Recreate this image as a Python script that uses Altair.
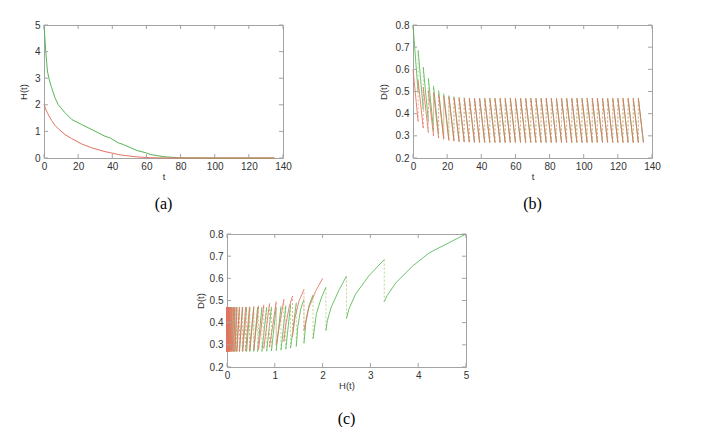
import altair as alt
import pandas as pd

# ---------------- data ----------------
# panel (a): H(t)
ta_green = [0, 1, 2, 3, 4.5, 6.4, 8.4, 12.3, 16.2, 22, 28, 35.7, 38.8, 43.5, 46.7, 54.6, 60, 62.4, 70.2, 78, 85, 95, 110, 135]
Ha_green = [5.0, 4.03, 3.27, 2.96, 2.64, 2.27, 2.0, 1.70, 1.45, 1.26, 1.07, 0.82, 0.75, 0.57, 0.50, 0.28, 0.19, 0.13, 0.05, 0.01, 0.003, 0.001, 0.0, 0.0]
ta_red = [0, 1, 2, 3, 4.5, 6.4, 8.4, 12.3, 16.2, 22, 28, 35.7, 38.8, 43.5, 46.7, 54.6, 62.4, 70, 80, 135]
Ha_red = [2.02, 1.83, 1.70, 1.57, 1.41, 1.23, 1.10, 0.88, 0.73, 0.53, 0.38, 0.24, 0.20, 0.13, 0.10, 0.04, 0.01, 0.004, 0.001, 0.0]

# impulse period and tooth values for D(t), panels (b) and (c)
period = 3
peak_green = [0.80, 0.685, 0.61, 0.56, 0.525, 0.505, 0.49, 0.482, 0.477, 0.474, 0.472, 0.471,
              0.47, 0.47, 0.47, 0.47, 0.47, 0.47, 0.47, 0.47, 0.47, 0.47, 0.47, 0.47, 0.47, 0.47, 0.47,
              0.47, 0.47, 0.47, 0.47, 0.47, 0.47, 0.47, 0.47, 0.47, 0.47, 0.47, 0.47, 0.47, 0.47, 0.47,
              0.47, 0.47, 0.47]
trough_green = [0.495, 0.419, 0.365, 0.327, 0.307, 0.293, 0.285, 0.28, 0.276, 0.274, 0.272, 0.271,
                0.27, 0.27, 0.27, 0.27, 0.27, 0.27, 0.27, 0.27, 0.27, 0.27, 0.27, 0.27, 0.27, 0.27, 0.27,
                0.27, 0.27, 0.27, 0.27, 0.27, 0.27, 0.27, 0.27, 0.27, 0.27, 0.27, 0.27, 0.27, 0.27, 0.27,
                0.27, 0.27, 0.27]
peak_red = [0.60, 0.55, 0.52, 0.505, 0.495, 0.487, 0.481, 0.477, 0.474, 0.472, 0.471,
            0.47, 0.47, 0.47, 0.47, 0.47, 0.47, 0.47, 0.47, 0.47, 0.47, 0.47, 0.47, 0.47, 0.47, 0.47,
            0.47, 0.47, 0.47, 0.47, 0.47, 0.47, 0.47, 0.47, 0.47, 0.47, 0.47, 0.47, 0.47, 0.47, 0.47,
            0.47, 0.47, 0.47, 0.47]
trough_red = [0.365, 0.335, 0.315, 0.30, 0.29, 0.284, 0.279, 0.276, 0.273, 0.272, 0.271,
              0.27, 0.27, 0.27, 0.27, 0.27, 0.27, 0.27, 0.27, 0.27, 0.27, 0.27, 0.27, 0.27, 0.27, 0.27,
              0.27, 0.27, 0.27, 0.27, 0.27, 0.27, 0.27, 0.27, 0.27, 0.27, 0.27, 0.27, 0.27, 0.27, 0.27,
              0.27, 0.27, 0.27, 0.27]
# H(t) at the impulse instants (panel c)
Hk_green = [5.0, 3.29, 2.50, 2.07, 1.80, 1.61, 1.45, 1.33, 1.23, 1.13, 1.03, 0.93, 0.83, 0.73, 0.64,
            0.56, 0.48, 0.41, 0.33, 0.26, 0.20, 0.16, 0.13, 0.10, 0.08, 0.065, 0.05, 0.04, 0.03, 0.025,
            0.02, 0.015, 0.012, 0.009, 0.007, 0.005, 0.004, 0.003, 0.002, 0.002, 0.001, 0.001, 0.001,
            0.0, 0.0, 0.0]
Hk_red = [2.0, 1.61, 1.37, 1.19, 1.03, 0.89, 0.77, 0.66, 0.56, 0.47, 0.39, 0.32, 0.26, 0.21, 0.17,
          0.14, 0.11, 0.09, 0.07, 0.055, 0.045, 0.035, 0.028, 0.022, 0.017, 0.013, 0.01, 0.008, 0.006,
          0.005, 0.004, 0.003, 0.002, 0.002, 0.001, 0.001, 0.001, 0.001, 0.0, 0.0, 0.0, 0.0, 0.0, 0.0,
          0.0, 0.0]
# intermediate points on the first (curved) arcs of panel (c): tooth -> [(H, D), ...]
arc_mid_green = {
    0: [(4.23, 0.715), (3.88, 0.655), (3.53, 0.579), (3.35, 0.522)],
    1: [(2.97, 0.612), (2.69, 0.529), (2.55, 0.461)],
    2: [(2.35, 0.55), (2.18, 0.47), (2.10, 0.41)],
    3: [(1.97, 0.51), (1.87, 0.44)],
    4: [(1.72, 0.48), (1.65, 0.40)],
    5: [(1.54, 0.46), (1.48, 0.38)],
}
arc_mid_red = {
    0: [(1.85, 0.54), (1.70, 0.46)],
    1: [(1.51, 0.50), (1.42, 0.42)],
    2: [(1.30, 0.47), (1.23, 0.39)],
}

ticks_t = [0, 20, 40, 60, 80, 100, 120, 140]
ticks_H = [0, 1, 2, 3, 4, 5]
ticks_D = [0.2, 0.3, 0.4, 0.5, 0.6, 0.7, 0.8]

# ---------------- styling ----------------
W, HT = 239, 133
GREEN, RED = "#55b655", "#e2735f"
GREEN_D, RED_D = "#b9d98f", "#eeab9c"
FRAME = "#a3a3a3"
TXT = "#333333"
LFONT = "Liberation Sans"

series = {
    "green": dict(ta=ta_green, Ha=Ha_green, peak=peak_green, trough=trough_green, Hk=Hk_green,
                  mid=arc_mid_green, c=GREEN, cd=GREEN_D),
    "red": dict(ta=ta_red, Ha=Ha_red, peak=peak_red, trough=trough_red, Hk=Hk_red,
                mid=arc_mid_red, c=RED, cd=RED_D),
}


def axis_x(title, values, fmt):
    return alt.Axis(title=title, values=values, format=fmt, ticks=False, domain=False, grid=False,
                    labelFlush=False, labelOverlap=False, labelPadding=3, titlePadding=0)


def axis_y(title, values, fmt, tp):
    return alt.Axis(title=title, values=values, format=fmt, ticks=False, domain=False, grid=False,
                    labelFlush=False, labelOverlap=False, labelPadding=4, titlePadding=tp)


def tick_layers(xf, yf, xt, yt, xs, ys, ax, ay):
    dx = pd.DataFrame({xf: xt})
    dy = pd.DataFrame({yf: yt})
    base_x = alt.Chart(dx).mark_rule(color=FRAME, strokeWidth=1)
    base_y = alt.Chart(dy).mark_rule(color=FRAME, strokeWidth=1)
    return [
        base_x.encode(x=alt.X(f"{xf}:Q", scale=xs, axis=ax), y=alt.value(HT), y2=alt.value(HT - 4)),
        base_x.encode(x=alt.X(f"{xf}:Q", scale=xs, axis=ax), y=alt.value(0), y2=alt.value(4)),
        base_y.encode(y=alt.Y(f"{yf}:Q", scale=ys, axis=ay), x=alt.value(0), x2=alt.value(4)),
        base_y.encode(y=alt.Y(f"{yf}:Q", scale=ys, axis=ay), x=alt.value(W - 4), x2=alt.value(W)),
    ]


def ptitle(txt, off):
    return alt.TitleParams(txt, orient="bottom", offset=off, font="Liberation Serif", fontSize=16,
                           fontWeight="normal", color="black", anchor="middle")


# ---------- panel (a) ----------
xs_a = alt.Scale(domain=[0, 140], nice=False)
ys_a = alt.Scale(domain=[0, 5], nice=False)
ax_a = axis_x("t", ticks_t, "d")
ay_a = axis_y("H(t)", ticks_H, "d", 6)
layers_a = []
for name, s in series.items():
    df = pd.DataFrame({"t": s["ta"], "H": s["Ha"]})
    layers_a.append(alt.Chart(df).mark_line(color=s["c"], strokeWidth=1).encode(
        x=alt.X("t:Q", scale=xs_a, axis=ax_a),
        y=alt.Y("H:Q", scale=ys_a, axis=ay_a),
    ))
panel_a = alt.layer(*layers_a, *tick_layers("t", "H", ticks_t, ticks_H, xs_a, ys_a, ax_a, ay_a)).properties(
    width=W, height=HT, title=ptitle("(a)", 15))

# ---------- panel (b) ----------
xs_b = alt.Scale(domain=[0, 140], nice=False)
ys_b = alt.Scale(domain=[0.2, 0.8], nice=False)
ax_b = axis_x("t", ticks_t, "d")
ay_b = axis_y("D(t)", ticks_D, ".1f", 7)
layers_b = []
for name, s in series.items():
    rows, jumps = [], []
    n = len(s["peak"])
    for k in range(n):
        rows.append({"t": period * k, "D": s["peak"][k], "k": k, "o": 0})
        rows.append({"t": period * (k + 1), "D": s["trough"][k], "k": k, "o": 1})
        if k + 1 < n:
            jumps.append({"t": period * (k + 1), "D": s["trough"][k], "k": k, "o": 0})
            jumps.append({"t": period * (k + 1), "D": s["peak"][k + 1], "k": k, "o": 1})
    layers_b.append(alt.Chart(pd.DataFrame(jumps)).mark_line(
        color=s["cd"], strokeWidth=1, strokeDash=[2, 2]).encode(
        x=alt.X("t:Q", scale=xs_b, axis=ax_b),
        y=alt.Y("D:Q", scale=ys_b, axis=ay_b),
        detail="k:N", order="o:Q"))
    layers_b.append(alt.Chart(pd.DataFrame(rows)).mark_line(color=s["c"], strokeWidth=1, opacity=0.85).encode(
        x=alt.X("t:Q", scale=xs_b, axis=ax_b),
        y=alt.Y("D:Q", scale=ys_b, axis=ay_b),
        detail="k:N", order="o:Q"))
panel_b = alt.layer(*layers_b, *tick_layers("t", "D", ticks_t, ticks_D, xs_b, ys_b, ax_b, ay_b)).properties(
    width=W, height=HT, title=ptitle("(b)", 15))

# ---------- panel (c) ----------
xs_c = alt.Scale(domain=[0, 5], nice=False)
ys_c = alt.Scale(domain=[0.2, 0.8], nice=False)
ax_c = axis_x("H(t)", ticks_H, "d")
ay_c = axis_y("D(t)", ticks_D, ".1f", 4)
layers_c = []
for name, s in series.items():
    rows, jumps = [], []
    n = len(s["peak"])
    for k in range(n):
        pts = [(s["Hk"][k], s["peak"][k])] + s["mid"].get(k, []) + [(s["Hk"][k + 1], s["trough"][k])]
        for i, (h, d) in enumerate(pts):
            rows.append({"H": h, "D": d, "k": k, "o": i})
        if k + 1 < n:
            jumps.append({"H": s["Hk"][k + 1], "D": s["trough"][k], "k": k, "o": 0})
            jumps.append({"H": s["Hk"][k + 1], "D": s["peak"][k + 1], "k": k, "o": 1})
    layers_c.append(alt.Chart(pd.DataFrame(jumps)).mark_line(
        color=s["cd"], strokeWidth=1, strokeDash=[2, 2]).encode(
        x=alt.X("H:Q", scale=xs_c, axis=ax_c),
        y=alt.Y("D:Q", scale=ys_c, axis=ay_c),
        detail="k:N", order="o:Q"))
    layers_c.append(alt.Chart(pd.DataFrame(rows)).mark_line(color=s["c"], strokeWidth=1, opacity=0.85).encode(
        x=alt.X("H:Q", scale=xs_c, axis=ax_c),
        y=alt.Y("D:Q", scale=ys_c, axis=ay_c),
        detail="k:N", order="o:Q"))
panel_c = alt.layer(*layers_c, *tick_layers("H", "D", ticks_H, ticks_D, xs_c, ys_c, ax_c, ay_c)).properties(
    width=W, height=HT, title=ptitle("(c)", 21))

spacer = alt.Chart(pd.DataFrame({"z": [0]})).mark_point(opacity=0).encode(
    x=alt.X("z:Q", axis=None), y=alt.Y("z:Q", axis=None)
).properties(width=149, height=10, view=alt.ViewBackground(stroke="transparent"))

row1 = alt.hconcat(panel_a, panel_b, spacing=85)
row2 = alt.hconcat(spacer, panel_c, spacing=0)
chart = alt.vconcat(row1, row2, spacing=16).properties(
    padding={"left": 9, "top": 11, "right": 0, "bottom": 0}
).configure_view(stroke=FRAME, strokeWidth=1).configure_axis(
    labelFont=LFONT, labelFontSize=10, labelColor=TXT,
    titleFont=LFONT, titleFontSize=9.5, titleFontWeight="normal", titleColor=TXT,
)

chart.save("out.html", embed_options={"renderer": "svg", "actions": False})
